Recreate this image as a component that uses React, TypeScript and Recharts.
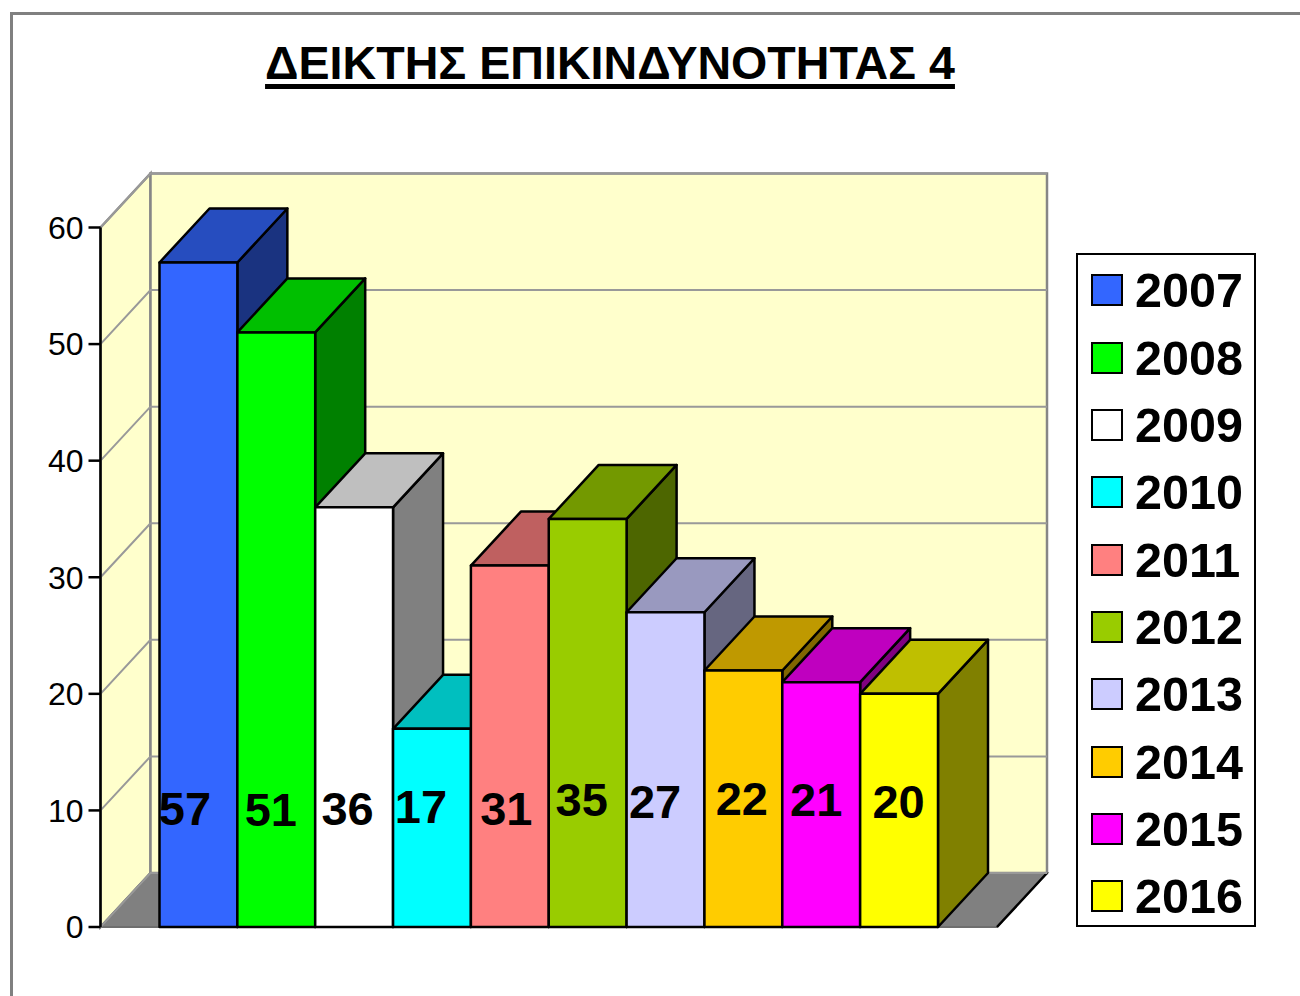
import React from "react"
import {
  BarChart,
  Bar,
  XAxis,
  YAxis,
  CartesianGrid,
  Legend,
  ReferenceArea,
} from "recharts"

const TITLE = "ΔΕΙΚΤΗΣ ΕΠΙΚΙΝΔΥΝΟΤΗΤΑΣ 4"
const years = ["2007", "2008", "2009", "2010", "2011", "2012", "2013", "2014", "2015", "2016"]
const values = [57, 51, 36, 17, 31, 35, 27, 22, 21, 20]
const colors = [
  "#3366FF", "#00FF00", "#FFFFFF", "#00FFFF", "#FF8080",
  "#99CC00", "#CCCCFF", "#FFCC00", "#FF00FF", "#FFFF00",
]
const yTicks = [0, 10, 20, 30, 40, 50, 60]

// the data labels were dragged by hand in the original, so each has its own nudge
const labelDx = [-13.5, -5.5, -6.5, -11, -3.5, -6, -10.5, -1.5, -5, -0.5]
const labelRise = [119, 118, 119, 121, 119, 128, 126, 129, 128, 126]

const row: Record<string, string | number> = { name: "" }
years.forEach((y, i) => {
  row[y] = values[i]
})
const data = [row]

const DX = 50
const DY = -54
const FONT = "'Liberation Sans', Arial, sans-serif"

function shade(hex: string, k: number) {
  const n = parseInt(hex.slice(1), 16)
  const c = [(n >> 16) & 255, (n >> 8) & 255, n & 255].map(v => Math.round(v * k))
  return `rgb(${c[0]},${c[1]},${c[2]})`
}

function Box3D(props: any) {
  const { x, y, width, height, fill } = props
  const r = x + width
  const b = y + height
  return (
    <g stroke="#000" strokeWidth={2.5} strokeLinejoin="round">
      <polygon
        fill={shade(fill, 0.5)}
        points={`${r},${y} ${r + DX},${y + DY} ${r + DX},${b + DY} ${r},${b}`}
      />
      <polygon
        fill={shade(fill, 0.75)}
        points={`${x},${y} ${x + DX},${y + DY} ${r + DX},${y + DY} ${r},${y}`}
      />
      <rect x={x} y={y} width={width} height={height} fill={fill} />
    </g>
  )
}

function Walls(props: any) {
  const { x, y, width, height } = props
  const r = x + width
  const b = y + height
  return (
    <g>
      <polygon
        fill="#FFFFCC"
        stroke="#868686"
        strokeWidth={2.5}
        points={`${x},${y} ${x + DX},${y + DY} ${x + DX},${b + DY} ${x},${b}`}
      />
      <rect
        x={x + DX}
        y={y + DY}
        width={width}
        height={height}
        fill="#FFFFCC"
        stroke="#868686"
        strokeWidth={2.5}
      />
      <polygon
        fill="#808080"
        stroke="#6e6e6e"
        strokeWidth={2}
        points={`${x},${b} ${x + DX},${b + DY} ${r + DX},${b + DY} ${r},${b}`}
      />
      <line x1={r} y1={b} x2={r + DX} y2={b + DY} stroke="#000" strokeWidth={2.5} />
    </g>
  )
}

function GridLine(props: any) {
  const { x1, y1, x2 } = props
  return (
    <polyline
      fill="none"
      stroke="#999999"
      strokeWidth={2}
      points={`${x1},${y1} ${x1 + DX},${y1 + DY} ${x2 + DX},${y1 + DY}`}
    />
  )
}

function BarLabel(props: any, i: number) {
  const { x, y, width, height, value } = props
  return (
    <text
      x={x + width / 2 + labelDx[i]}
      y={y + height - labelRise[i] + 17}
      textAnchor="middle"
      fontFamily={FONT}
      fontSize={47}
      fontWeight="bold"
      fill="#000"
    >
      {value}
    </text>
  )
}

function LegendBox(props: any) {
  return (
    <div
      style={{
        width: 180,
        height: 674,
        boxSizing: "border-box",
        border: "2px solid #000",
        background: "#fff",
        paddingTop: 1.5,
      }}
    >
      {(props.payload || []).map((p: any) => (
        <div
          key={p.value}
          style={{
            height: 67.35,
            display: "flex",
            alignItems: "center",
            paddingLeft: 13,
          }}
        >
          <div
            style={{
              width: 32,
              height: 32,
              boxSizing: "border-box",
              border: "2px solid #000",
              background: p.color,
            }}
          />
          <span
            style={{
              marginLeft: 12,
              fontFamily: FONT,
              fontSize: 48.5,
              fontWeight: "bold",
              color: "#000",
            }}
          >
            {p.value}
          </span>
        </div>
      ))}
    </div>
  )
}

export default function App() {
  return (
    <div
      style={{
        position: "absolute",
        left: 0,
        top: 0,
        width: 1300,
        height: 996,
        overflow: "hidden",
        background: "#fff",
      }}
    >
      <div
        style={{
          position: "absolute",
          left: 10,
          top: 12,
          width: 1290,
          height: 984,
          boxSizing: "border-box",
          borderLeft: "3px solid #808080",
          borderTop: "3px solid #808080",
        }}
      />
      <div
        style={{
          position: "absolute",
          left: 0,
          top: 36,
          width: 1220,
          textAlign: "center",
          fontFamily: FONT,
          fontSize: 46.6,
          fontWeight: "bold",
          textDecoration: "underline",
          textDecorationThickness: 4.5,
          textUnderlineOffset: 5,
          color: "#000",
        }}
      >
        {TITLE}
      </div>
      <BarChart
        width={1300}
        height={996}
        data={data}
        margin={{ top: 227.5, right: 303, bottom: 69, left: 0.5 }}
        barSize={77.85}
        barGap={0}
        style={{ position: "absolute", left: 0, top: 0 }}
      >
        <ReferenceArea y1={0} y2={60} shape={Walls} zIndex={-200} />
        <CartesianGrid horizontal={GridLine} vertical={false} />
        <XAxis
          dataKey="name"
          height={0}
          tick={false}
          tickLine={false}
          axisLine={{ stroke: "#000", strokeWidth: 2.5 }}
        />
        <YAxis
          width={100}
          domain={[0, 60]}
          ticks={yTicks}
          tickSize={12}
          tickMargin={5}
          tick={{ fontFamily: FONT, fontSize: 32, fill: "#000" }}
          axisLine={{ stroke: "#000", strokeWidth: 2.5 }}
          tickLine={{ stroke: "#000", strokeWidth: 2.5 }}
        />
        {years.map((y, i) => (
          <Bar
            key={y}
            dataKey={y}
            name={y}
            fill={colors[i]}
            isAnimationActive={false}
            shape={Box3D}
            label={(p: any) => BarLabel(p, i)}
          />
        ))}
        <Legend
          layout="vertical"
          align="center"
          verticalAlign="middle"
          content={LegendBox}
          wrapperStyle={{ left: 1076, top: 253, width: 180, height: 674, bottom: "auto", right: "auto" }}
        />
      </BarChart>
    </div>
  )
}
